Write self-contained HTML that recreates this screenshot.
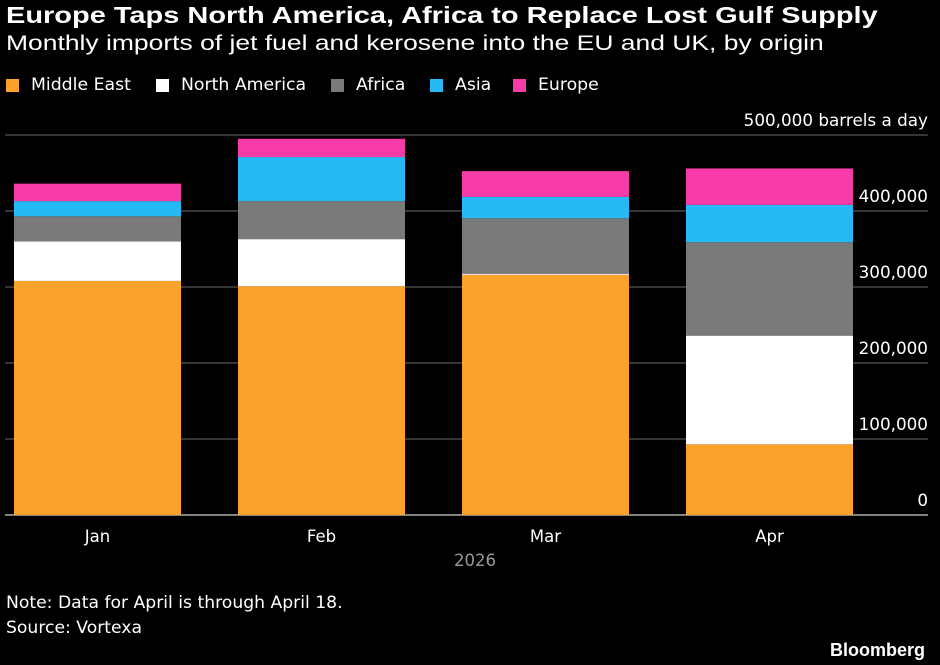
<!DOCTYPE html>
<html><head><meta charset="utf-8"><style>
body{margin:0;background:#000;width:940px;height:665px;overflow:hidden;font-family:"Liberation Sans","DejaVu Sans",sans-serif;color:#fff}
.t{position:absolute;white-space:nowrap}
.sx{transform-origin:0 0;transform:scaleX(1.26)}
.dj{font-family:"DejaVu Sans",sans-serif}
</style></head><body>
<div class="t sx" style="left:6px;top:2px;font-size:23px;font-weight:bold">Europe Taps North America, Africa to Replace Lost Gulf Supply</div>
<div class="t sx" style="left:6px;top:32px;font-size:21px">Monthly imports of jet fuel and kerosene into the EU and UK, by origin</div>
<div id="legend" style="position:absolute;left:0;top:75px;font-size:17.3px;width:940px;height:24px"></div>
<svg id="chart" width="940" height="665" style="position:absolute;left:0;top:0"></svg>
<div class="t dj" style="left:6px;top:593px;font-size:17.2px">Note: Data for April is through April 18.</div>
<div class="t dj" style="left:6px;top:618px;font-size:17.2px">Source: Vortexa</div>
<div class="t" style="left:830px;top:640px;font-size:18px;font-weight:bold">Bloomberg</div>
<script>
const categories=["Jan","Feb","Mar","Apr"];
const seriesNames=["Middle East","North America","Africa","Asia","Europe"];
const colors=["#fba22a","#ffffff","#7a7a7a","#25b9f5","#f73ba9"];
const middleEast=[308000,301000,316000,93000];
const northAmerica=[52000,62000,1500,143000];
const africa=[33000,50000,73000,123000];
const asia=[20000,58000,28000,49000];
const europe=[23000,24000,34000,48000];
const yTicks=[0,100000,200000,300000,400000,500000];
const yTickLabels=["0","100,000","200,000","300,000","400,000","500,000 barrels a day"];
const series=[middleEast,northAmerica,africa,asia,europe];
const svg=document.getElementById('chart');
const NS="http://www.w3.org/2000/svg";
const y0=515,pxPer=76/100000;
const y=v=>y0-v*pxPer;
const barX=i=>14+i*224, barW=167;
const FONT='DejaVu Sans, sans-serif';
function mk(tag,attrs){const e=document.createElementNS(NS,tag);for(const k in attrs)e.setAttribute(k,attrs[k]);svg.appendChild(e);return e;}
yTicks.forEach((v,i)=>{
  const l=mk('line',{x1:5,x2:928,y1:y(v),y2:y(v),stroke:i==0?'#aaa':'#555','stroke-width':i==0?1.5:1.3});
  
  
  const t=mk('text',{x:928,y:y(v)-9,'text-anchor':'end',fill:'#fff','font-size':16.8,'font-family':FONT});
  t.textContent=yTickLabels[i];
  
  
});
categories.forEach((c,i)=>{
  let base=0;
  series.forEach((s,j)=>{
    const v=s[i];
    const r=mk('rect',{x:barX(i),y:y(base+v),width:barW,height:v*pxPer,fill:colors[j]});
    
    
    base+=v;
  });
  const t=mk('text',{x:barX(i)+barW/2,y:542,'text-anchor':'middle',fill:'#fff','font-size':16.5,'font-family':FONT});
  t.textContent=c;
  
  
});
const yr=mk('text',{x:475,y:566,'text-anchor':'middle',fill:'#999','font-size':16.5,'font-family':FONT});
yr.textContent="2026";


const lg=document.getElementById('legend');
const legendLeft=[6,156,331,430,513];
seriesNames.forEach((n,j)=>{
  const d=document.createElement('div');
  
  
  d.style.cssText='position:absolute;top:0;left:'+legendLeft[j]+'px;display:flex;align-items:center;font-family:"DejaVu Sans",sans-serif;white-space:nowrap';
  d.innerHTML='<span style="display:inline-block;width:13px;height:13px;background:'+colors[j]+';margin-right:12px"></span>'+n;
  lg.appendChild(d);
});
</script>
</body></html>
